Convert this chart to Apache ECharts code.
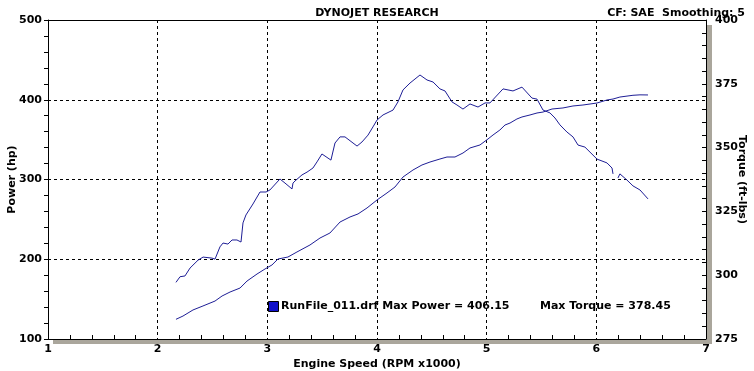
<!DOCTYPE html>
<html><head><meta charset="utf-8">
<script src="https://cdn.jsdelivr.net/npm/echarts@6/dist/echarts.min.js"></script>
<style>html,body{margin:0;padding:0;background:#fff}#c{width:754px;height:371px}</style>
</head><body><div id="c"></div>
<script>
const xTicks = [1, 2, 3, 4, 5, 6, 7];
const powerRpm = [2.167,2.231,2.322,2.413,2.523,2.587,2.660,2.751,2.815,2.906,2.979,3.042,3.097,3.188,3.270,3.389,3.480,3.571,3.663,3.754,3.827,3.909,4.000,4.091,4.164,4.237,4.328,4.410,4.483,4.574,4.638,4.711,4.784,4.848,4.939,5.012,5.058,5.121,5.167,5.213,5.276,5.322,5.395,5.459,5.514,5.596,5.696,5.787,5.878,6.006,6.097,6.152,6.215,6.334,6.398,6.471];
const powerHp = [124.7,128.8,136.4,141.4,147.6,153.9,158.9,163.9,172.7,181.5,187.8,192.8,200.3,202.8,209.1,217.9,226.6,232.9,246.7,253.0,256.8,264.3,274.3,283.1,290.6,303.1,311.9,318.2,321.9,325.7,328.2,328.2,333.2,339.5,343.3,350.8,355.8,362.1,368.3,370.8,375.9,378.4,380.9,383.4,384.6,388.4,389.7,392.2,393.4,395.9,399.7,400.9,403.4,405.6,406.15,406.0];
const torqueRpm = [2.167,2.204,2.249,2.295,2.368,2.414,2.495,2.523,2.568,2.596,2.641,2.678,2.723,2.760,2.778,2.805,2.869,2.933,2.988,3.024,3.115,3.161,3.225,3.234,3.252,3.316,3.362,3.416,3.453,3.498,3.580,3.617,3.663,3.708,3.818,3.863,3.918,3.963,4.000,4.055,4.146,4.191,4.237,4.301,4.392,4.456,4.511,4.574,4.620,4.684,4.729,4.784,4.848,4.921,4.985,5.030,5.149,5.240,5.322,5.413,5.459,5.514,5.577,5.623,5.668,5.732,5.787,5.833,5.896,6.006,6.097,6.143,6.152,6.175,6.197,6.215,6.279,6.334,6.398,6.471];
const torqueFt = [297.2,299.4,299.7,302.8,305.9,307.1,306.7,306.3,311.1,312.6,312.2,313.8,313.8,313.0,320.5,323.6,327.9,332.6,332.6,333.4,337.7,336.1,333.8,336.1,336.9,339.3,340.4,342.0,344.4,347.5,345.1,351.8,354.2,354.2,350.6,352.2,354.9,358.1,360.8,362.8,364.7,367.9,372.6,375.3,378.45,376.5,375.7,373.0,372.2,367.9,366.7,365.1,367.1,365.9,367.5,367.5,373.0,372.2,373.7,369.4,369.0,364.7,363.6,361.6,358.9,356.1,354.2,351.0,350.2,345.5,344.0,342.0,339.7,null,338.1,339.7,337.3,335.0,333.4,329.9];
const legendText = 'RunFile_011.drf Max Power = 406.15';
const torqueText = 'Max Torque = 378.45';

const F = 'DejaVu Sans';
const lineColor = '#1e1e96';
const shadow = '#aaa69c';
const txt = {fontFamily: F, fontWeight: 'bold', fontSize: 11, color: '#000'};
const chart = echarts.init(document.getElementById('c'), null, {renderer: 'canvas'});
chart.setOption({
  animation: false,
  backgroundColor: '#fff',
  grid: {left: 48, right: 48, top: 20, bottom: 32, outerBoundsMode: 'none', containLabel: false,
    show: true, backgroundColor: '#fff', borderWidth: 0},
  title: [
    {text: 'DYNOJET RESEARCH', left: 'center', top: 3, textStyle: txt},
    {text: 'CF: SAE  Smoothing: 5', right: 4, top: 3, textStyle: txt}
  ],
  xAxis: [
    {type: 'value', min: 1, max: 7, interval: 1, position: 'bottom', name: 'Engine Speed (RPM x1000)', nameLocation: 'middle', nameGap: 20,
      nameMoveOverlap: false, nameTextStyle: txt,
      axisLine: {lineStyle: {color: '#000'}},
      axisTick: {show: false, inside: true},
      minorTick: {show: true, splitNumber: 5, length: 4, lineStyle: {color: '#000'}},
      axisLabel: Object.assign({margin: 5, formatter: v => xTicks.includes(v) ? String(v) : ''}, txt),
      splitLine: {show: true, lineStyle: {color: '#000', type: [3, 3], width: 1}}
    },
    {type: 'value', min: 1, max: 7, interval: 1, position: 'top',
      axisLine: {show: true, lineStyle: {color: '#000'}},
      axisTick: {show: false}, axisLabel: {show: false}, splitLine: {show: false}
    }
  ],
  yAxis: [
    {type: 'value', min: 100, max: 500, interval: 100, position: 'left', name: 'Power (hp)', nameLocation: 'middle', nameGap: 30, nameRotate: 90,
      nameMoveOverlap: false, nameTextStyle: txt,
      axisLine: {show: true, lineStyle: {color: '#000'}},
      axisTick: {show: true, length: 4, lineStyle: {color: '#000'}},
      minorTick: {show: true, splitNumber: 5, length: 4, lineStyle: {color: '#000'}},
      axisLabel: Object.assign({margin: 6}, txt),
      splitLine: {show: true, lineStyle: {color: '#000', type: [3, 3], width: 1}}
    },
    {type: 'value', min: 275, max: 400, interval: 25, position: 'right', name: 'Torque (ft-lbs)', nameLocation: 'middle', nameGap: 30, nameRotate: -90,
      nameMoveOverlap: false, nameTextStyle: txt,
      axisLine: {show: true, lineStyle: {color: '#000'}},
      axisTick: {show: true, inside: true, length: 4, lineStyle: {color: '#000'}},
      minorTick: {show: true, splitNumber: 5, length: 4, lineStyle: {color: '#000'}},
      axisLabel: Object.assign({margin: 9}, txt),
      splitLine: {show: false}
    }
  ],
  series: [
    {type: 'line', xAxisIndex: 0, yAxisIndex: 0, showSymbol: false, smooth: false, connectNulls: false,
      lineStyle: {color: lineColor, width: 1}, data: powerRpm.map((r, i) => [r, powerHp[i]])},
    {type: 'line', xAxisIndex: 0, yAxisIndex: 1, showSymbol: false, smooth: false, connectNulls: false,
      lineStyle: {color: lineColor, width: 1}, data: torqueRpm.map((r, i) => [r, torqueFt[i]])}
  ],
  graphic: [
    {type: 'rect', x: 707, y: 25, z: 100, shape: {x: 0, y: 0, width: 5, height: 319}, style: {fill: shadow}},
    {type: 'rect', x: 53, y: 340, z: 100, shape: {x: 0, y: 0, width: 659, height: 4}, style: {fill: shadow}},
    {type: 'rect', left: 268, top: 301, shape: {width: 10, height: 10}, style: {fill: '#1010c8', stroke: '#000', lineWidth: 1}},
    {type: 'text', left: 281, top: 301, style: {text: legendText, fontFamily: F, fontWeight: 'bold', fontSize: 11, fill: '#000'}},
    {type: 'text', left: 540, top: 301, style: {text: torqueText, fontFamily: F, fontWeight: 'bold', fontSize: 11, fill: '#000'}}
  ]
});
</script></body></html>
